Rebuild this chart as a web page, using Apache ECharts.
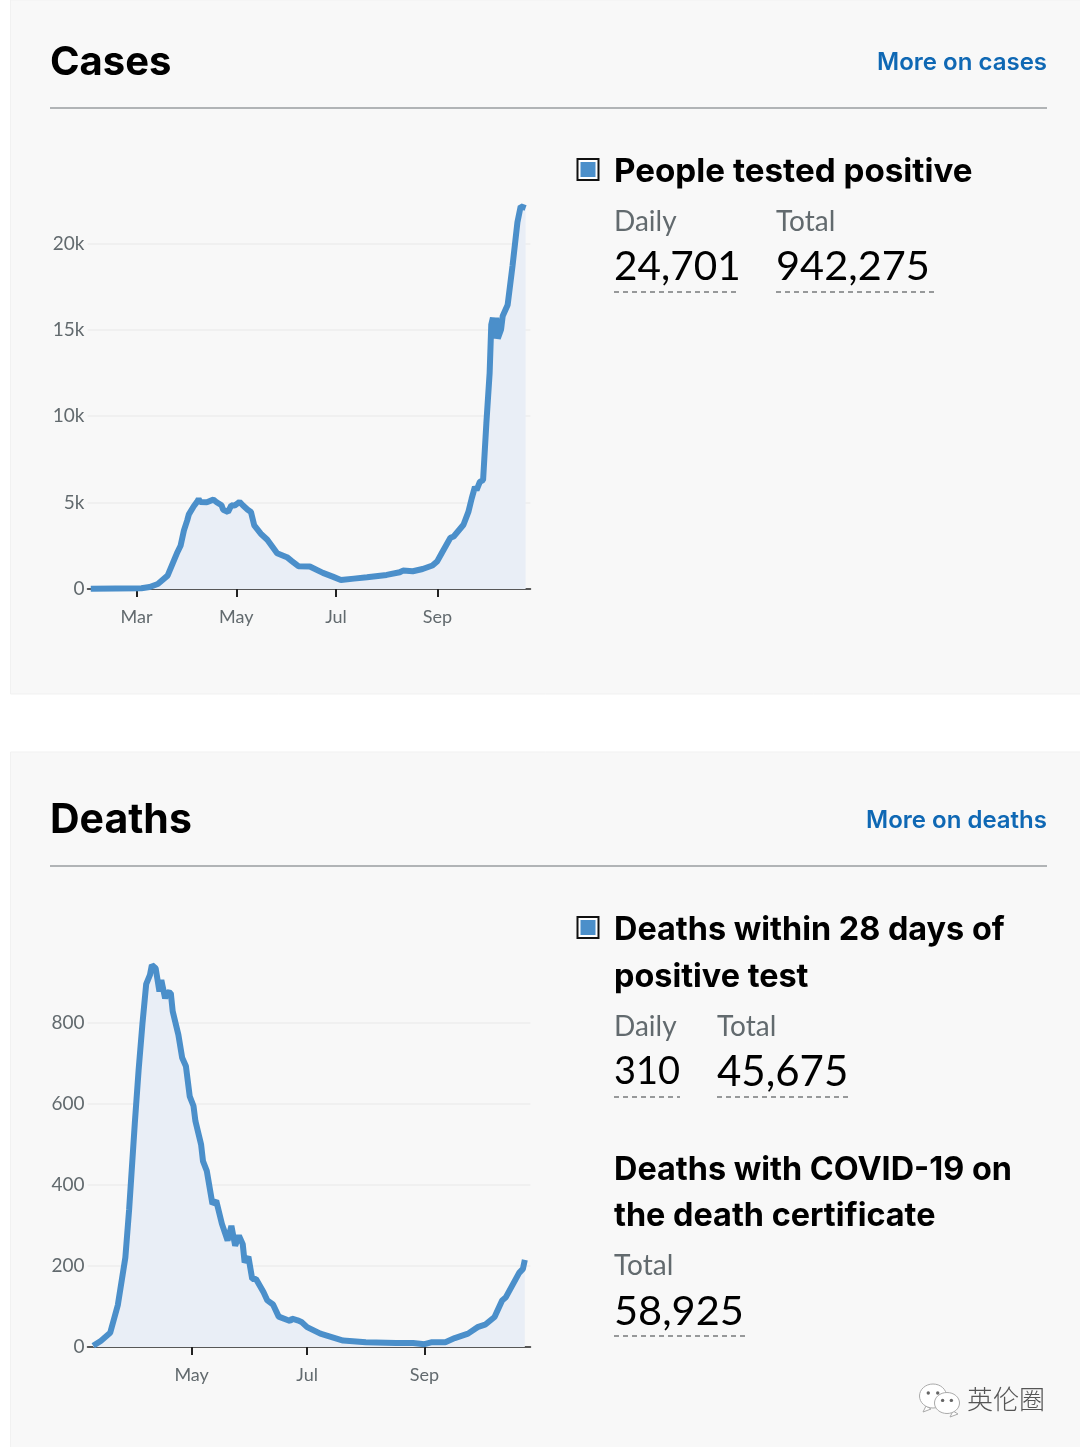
<!DOCTYPE html>
<html><head><meta charset="utf-8">
<style>html,body{margin:0;padding:0;background:#fff}#c{width:1080px;height:1447px}</style>
<script src="https://cdn.jsdelivr.net/npm/echarts@6/dist/echarts.min.js"></script>
</head><body><div id="c"></div>
<script>
const casesDates=['2020-02-02','2020-03-04','2020-03-09','2020-03-14','2020-03-20','2020-03-26','2020-03-28','2020-03-30','2020-04-01','2020-04-02','2020-04-05','2020-04-07','2020-04-08','2020-04-09','2020-04-13','2020-04-17','2020-04-19','2020-04-22','2020-04-23','2020-04-26','2020-04-28','2020-04-30','2020-05-03','2020-05-05','2020-05-08','2020-05-10','2020-05-12','2020-05-16','2020-05-20','2020-05-23','2020-05-26','2020-06-01','2020-06-04','2020-06-08','2020-06-15','2020-06-23','2020-06-29','2020-07-04','2020-07-12','2020-07-20','2020-08-01','2020-08-09','2020-08-11','2020-08-17','2020-08-23','2020-08-29','2020-09-01','2020-09-04','2020-09-09','2020-09-11','2020-09-17','2020-09-20','2020-09-22','2020-09-24','2020-09-25','2020-09-27','2020-09-29','2020-10-01','2020-10-03','2020-10-04','2020-10-05','2020-10-06','2020-10-07','2020-10-08','2020-10-10','2020-10-11','2020-10-14','2020-10-17','2020-10-20','2020-10-22','2020-10-25'];
const casesValues=[10,40,116,290,775,2130,2520,3390,3970,4320,4790,5040,5200,5040,5020,5170,5020,4845,4590,4460,4845,4825,5040,4845,4590,4460,3680,3200,2850,2460,2070,1840,1610,1320,1300,930,717,520,600,680,815,970,1065,1030,1160,1360,1610,2130,2965,3040,3720,4460,5230,5910,5715,6200,6300,9590,12500,15300,15700,14500,15700,14500,15020,15800,16430,18700,21220,22150,22050];
const deathsDates=['2020-03-10','2020-03-14','2020-03-19','2020-03-23','2020-03-27','2020-03-29','2020-04-01','2020-04-03','2020-04-05','2020-04-07','2020-04-09','2020-04-10','2020-04-12','2020-04-14','2020-04-15','2020-04-16','2020-04-17','2020-04-18','2020-04-20','2020-04-21','2020-04-22','2020-04-24','2020-04-26','2020-04-28','2020-04-30','2020-05-02','2020-05-03','2020-05-06','2020-05-07','2020-05-09','2020-05-12','2020-05-14','2020-05-17','2020-05-20','2020-05-22','2020-05-23','2020-05-24','2020-05-26','2020-05-28','2020-05-29','2020-05-31','2020-06-02','2020-06-04','2020-06-08','2020-06-10','2020-06-13','2020-06-16','2020-06-22','2020-06-23','2020-06-26','2020-06-28','2020-07-01','2020-07-08','2020-07-20','2020-08-01','2020-08-17','2020-08-26','2020-09-01','2020-09-05','2020-09-12','2020-09-17','2020-09-24','2020-09-29','2020-10-03','2020-10-08','2020-10-12','2020-10-14','2020-10-21','2020-10-23','2020-10-24'];
const deathsValues=[3,15,35,103,221,340,553,684,797,896,919,943,935,878,906,906,861,876,874,829,833,771,714,693,619,595,558,500,459,435,353,361,304,263,299,299,250,275,254,209,223,168,168,135,115,105,75,64,70,66,62,49,33,16,12,10,10,7,12,12,22,33,49,55,74,115,123,183,193,215];
const casesTickDates=['2020-03-01','2020-05-01','2020-07-01','2020-09-01'];
const casesTickLabels=['Mar','May','Jul','Sep'];
const deathsTickDates=['2020-05-01','2020-07-01','2020-09-01'];
const deathsTickLabels=['May','Jul','Sep'];

const BLUE='#4b8fca',FILL='#e9eef6',GREY='#626a6e',LINK='#0f68b4';
const FONT='Lato, "Open Sans", sans-serif';
const HEAD='Inter, Lato, sans-serif';
const ts=s=>echarts.number.parseDate(s).getTime();
const pair=(d,v)=>d.map((x,i)=>[ts(x),v[i]]);
const chart=echarts.init(document.getElementById('c'),null,{renderer:'canvas'});

function xAxis(i,min,max,dates,labels){
  const vals=dates.map(ts);
  return {type:'value',gridIndex:i,min:ts(min),max:ts(max),scale:true,
    axisLine:{show:true,onZero:false,lineStyle:{color:'#222',width:1.5}},
    axisTick:{show:true,length:8,customValues:vals,lineStyle:{color:'#222',width:2}},
    axisLabel:{customValues:vals,color:GREY,fontFamily:FONT,fontSize:18,margin:19,hideOverlap:false,
      formatter:v=>labels[vals.indexOf(+v)]||''},
    splitLine:{show:false},minorTick:{show:false}};
}
function yAxis(i,max,step,fmt){
  return {type:'value',gridIndex:i,min:0,max,interval:step,
    axisLine:{show:false},axisTick:{show:false},
    axisLabel:{color:GREY,fontFamily:FONT,fontSize:19,margin:3,padding:[3,0,0,0],showMaxLabel:false,formatter:fmt},
    splitLine:{show:true,showMinLine:false,showMaxLine:false,lineStyle:{color:'#eeeeee',width:1.5}}};
}
function area(i,data){
  return {type:'line',xAxisIndex:i,yAxisIndex:i,data,showSymbol:false,symbol:'none',smooth:false,clip:false,
    lineStyle:{color:BLUE,width:6,join:'bevel',cap:'butt'},
    areaStyle:{color:FILL,opacity:1},animation:false};
}
function T(text,x,y,size,weight,fill,align,family){
  return {type:'text',x,y,silent:true,z:5,style:{text,font:`${weight} ${size}px ${family||FONT}`,fill,align:align||'left',verticalAlign:'middle'}};
}
function dash(x1,x2,y){
  return {type:'line',silent:true,z:5,shape:{x1,y1:y,x2,y2:y},style:{stroke:'#77797b',lineWidth:1.5,lineDash:[5,4]}};
}
function hr(y){return {type:'line',silent:true,z:1,shape:{x1:50,y1:y,x2:1047,y2:y},style:{stroke:'#b1b4b6',lineWidth:2}};}
function panel(y,h){return {type:'rect',silent:true,z:-10,shape:{x:10.5,y,width:1075,height:h},style:{fill:'#f8f8f8',stroke:'#f1f1f1',lineWidth:1}};}
function key(y){return [
  {type:'rect',silent:true,z:5,shape:{x:577.5,y,width:21,height:21},style:{fill:'#fff',stroke:'#111',lineWidth:2}},
  {type:'rect',silent:true,z:6,shape:{x:580.5,y:y+3,width:15,height:15},style:{fill:BLUE}}];}
function bubble(cx,cy,rx,ry,tx,ty){return [
  {type:'polygon',silent:true,z:7,shape:{points:[[tx,ty],[tx+5,ty+3],[tx-3,ty+6]]},style:{fill:'#fff',stroke:'#aaa',lineWidth:1}},
  {type:'ellipse',silent:true,z:7,shape:{cx,cy,rx,ry},style:{fill:'#fff',stroke:'#aaa',lineWidth:1}},
  {type:'circle',silent:true,z:8,shape:{cx:cx-rx*0.35,cy:cy-ry*0.25,r:1.7},style:{fill:'#666'}},
  {type:'circle',silent:true,z:8,shape:{cx:cx+rx*0.35,cy:cy-ry*0.25,r:1.7},style:{fill:'#666'}}];}

const graphics=[
  panel(0,694),panel(752,700),
  T('Cases',50,63,40,700,'#000','left',HEAD),
  T('More on cases',1047,63,24,600,LINK,'right',HEAD),hr(108),
  ...key(159),
  T('People tested positive',614,172,33.2,700,'#000','left',HEAD),
  T('Daily',614,222,28,400,GREY),T('Total',776,222,28,400,GREY),
  T('24,701',614,267,40.5,400,'#000'),T('942,275',776,267,41.5,400,'#000'),
  dash(614,739,292),dash(776,934,292),

  T('Deaths',50,821,41,700,'#000','left',HEAD),
  T('More on deaths',1047,821,24,600,LINK,'right',HEAD),hr(866),
  ...key(917),
  T('Deaths within 28 days of',614,930,32.4,700,'#000','left',HEAD),
  T('positive test',614,977,32.4,700,'#000','left',HEAD),
  T('Daily',614,1027,28,400,GREY),T('Total',717,1027,28,400,GREY),
  T('310',614,1072,38,400,'#000'),T('45,675',717,1072,42,400,'#000'),
  dash(614,680,1097),dash(717,851,1097),
  T('Deaths with COVID-19 on',614,1170,32.4,700,'#000','left',HEAD),
  T('the death certificate',614,1216,32.4,700,'#000','left',HEAD),
  T('Total',614,1266,28,400,GREY),
  T('58,925',614,1312,41.5,400,'#000'),
  dash(614,749,1336),

  ...bubble(933,1396,13.5,12,926,1406),
  ...bubble(947,1403,12.5,10.5,953,1411),
  T('英伦圈',967,1399,26,300,'#555','left','"Noto Sans CJK SC"')
];

chart.setOption({
  animation:false,backgroundColor:'#fff',
  grid:[{left:87.5,width:443,top:157,height:432},{left:87.5,width:443,top:942,height:405}],
  xAxis:[xAxis(0,'2020-01-31','2020-10-28',casesTickDates,casesTickLabels),
         xAxis(1,'2020-03-07','2020-10-27',deathsTickDates,deathsTickLabels)],
  yAxis:[yAxis(0,25000,5000,v=>v?(v/1000)+'k':'0'),yAxis(1,1000,200,v=>String(v))],
  series:[area(0,pair(casesDates,casesValues)),area(1,pair(deathsDates,deathsValues))],
  graphic:graphics
});
</script></body></html>
